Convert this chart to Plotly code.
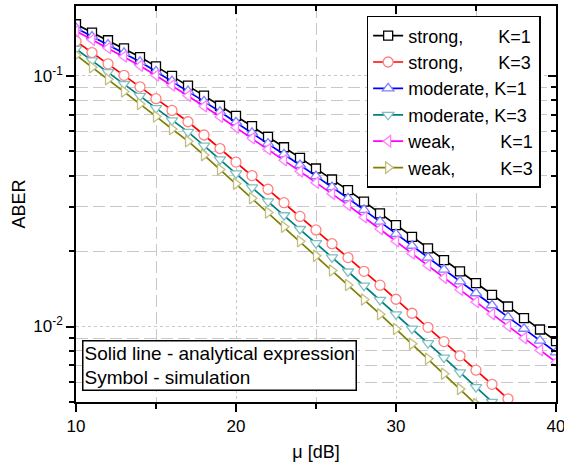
import math
import plotly.graph_objects as go

mu = list(range(10, 41))

strong_k1 = [0.1607, 0.1489, 0.1387, 0.1288, 0.1189, 0.1091, 0.1000, 0.0914, 0.0834, 0.0760,
             0.0692, 0.0630, 0.0571, 0.0519, 0.0471, 0.0427, 0.0386, 0.0350, 0.0315, 0.0283,
             0.0254, 0.0228, 0.0205, 0.0184, 0.0166, 0.01489, 0.01337, 0.01202, 0.01081, 0.00973,
             0.00875]
strong_k3 = [0.1374, 0.1239, 0.1117, 0.1005, 0.0904, 0.0811, 0.0728, 0.0656, 0.0581, 0.0513,
             0.0453, 0.0400, 0.0353, 0.0312, 0.0275, 0.0243, 0.0214, 0.01884, 0.01660, 0.01462,
             0.01285, 0.01130, 0.00993, 0.00871, 0.00764, 0.00670, 0.00588, 0.00515, 0.00452, 0.00396,
             0.00348]
moderate_k1 = [0.1552, 0.1436, 0.1334, 0.1236, 0.1138, 0.1042, 0.0953, 0.0869, 0.0791, 0.0719,
               0.0653, 0.0593, 0.0537, 0.0486, 0.0441, 0.0398, 0.0360, 0.0325, 0.0292, 0.0262,
               0.0234, 0.0210, 0.01884, 0.01687, 0.01514, 0.01358, 0.01216, 0.01091, 0.00980, 0.00879,
               0.00789]
moderate_k3 = [0.1282, 0.1152, 0.1035, 0.0928, 0.0832, 0.0744, 0.0665, 0.0598, 0.0527, 0.0464,
               0.0408, 0.0359, 0.0316, 0.0278, 0.0245, 0.0215, 0.01888, 0.01658, 0.01455, 0.01278,
               0.01119, 0.00981, 0.00859, 0.00751, 0.00656, 0.00573, 0.00501, 0.00438, 0.00383, 0.00335,
               0.00292]
weak_k1 = [0.1510, 0.1394, 0.1292, 0.1195, 0.1098, 0.1003, 0.0915, 0.0833, 0.0756, 0.0687,
           0.0622, 0.0564, 0.0510, 0.0461, 0.0416, 0.0375, 0.0339, 0.0305, 0.0273, 0.0245,
           0.0219, 0.01955, 0.01751, 0.01564, 0.01401, 0.01254, 0.01121, 0.01004, 0.00899, 0.00805,
           0.00721]
weak_k3 = [0.1211, 0.1083, 0.0970, 0.0866, 0.0773, 0.0689, 0.0614, 0.0549, 0.0483, 0.0423,
           0.0371, 0.0325, 0.0285, 0.0250, 0.0219, 0.01914, 0.01674, 0.01464, 0.01281, 0.01120,
           0.00977, 0.00853, 0.00744, 0.00648, 0.00564, 0.00491, 0.00427, 0.00372, 0.00324, 0.00282,
           0.00245]

NB = "\u00a0"
series = [
    ("strong," + NB * 7 + "K=1", strong_k1, "#000000", "#000000", "square"),
    ("strong," + NB * 7 + "K=3", strong_k3, "#ff0000", "#ff8080", "circle"),
    ("moderate," + NB + "K=1", moderate_k1, "#0000ff", "#8080ff", "triangle-up"),
    ("moderate," + NB + "K=3", moderate_k3, "#008080", "#80c0c0", "triangle-down"),
    ("weak," + NB * 9 + "K=1", weak_k1, "#ff00ff", "#ff80ff", "triangle-left"),
    ("weak," + NB * 9 + "K=3", weak_k3, "#808000", "#c0c080", "triangle-right"),
]

x_major = [10, 20, 30, 40]
x_minor = [15, 25, 35]
y_major = [0.01, 0.1]
y_major_text = ["10<sup>-2</sup>", "10<sup>-1</sup>"]
y_minor = [0.005, 0.006, 0.007, 0.008, 0.009, 0.02, 0.03, 0.04, 0.05, 0.06, 0.07, 0.08, 0.09]

FONT = "Liberation Sans, Arial, sans-serif"
GRID = "#c8c8c8"
yr = [math.log10(0.005), math.log10(0.19)]
xr = [10, 40]

fig = go.Figure()
for name, vals, lc, mc, sym in series:
    fig.add_trace(go.Scatter(
        x=mu, y=vals, name=name, mode="lines+markers",
        line=dict(color=lc, width=1.7),
        marker=dict(symbol=sym, size=9 if sym == "square" else 10, color="white",
                    line=dict(color=mc, width=1.3)),
    ))

# helper trace for the mirrored (inward-tick) axes
fig.add_trace(go.Scatter(x=[20], y=[0.05], xaxis="x2", yaxis="y2", mode="markers",
                         marker=dict(opacity=0), showlegend=False, hoverinfo="skip"))

fig.update_layout(
    width=564, height=467,
    margin=dict(l=76, r=8, t=6, b=65, autoexpand=False),
    paper_bgcolor="white", plot_bgcolor="white",
    font=dict(family=FONT, size=18, color="black"),
    showlegend=True,
    legend=dict(x=0.968, y=0.975, xanchor="right", yanchor="top",
                bgcolor="white", bordercolor="black", borderwidth=1.5,
                font=dict(family=FONT, size=18), tracegroupgap=0,
                itemwidth=30),
    xaxis=dict(range=xr, tickvals=x_major, ticks="outside", ticklen=8, tickwidth=1.5,
               tickcolor="black", showline=True, linecolor="black", linewidth=1.5,
               mirror=True, showgrid=True, gridcolor=GRID, gridwidth=1, griddash="dot",
               zeroline=False, tickfont=dict(size=17), automargin=False,
               ticklabeloverflow="allow",
               minor=dict(tickvals=x_minor, ticks="outside", ticklen=5, tickwidth=1.5,
                          tickcolor="black", showgrid=True, gridcolor=GRID, gridwidth=1,
                          griddash="12px,5px"),
               title=dict(text="μ [dB]", font=dict(size=18), standoff=10)),
    yaxis=dict(type="log", range=yr, tickvals=y_major, ticktext=y_major_text,
               ticks="outside", ticklen=8, tickwidth=1.5, tickcolor="black",
               showline=True, linecolor="black", linewidth=1.5, mirror=True,
               showgrid=True, gridcolor=GRID, gridwidth=1, griddash="dot",
               zeroline=False, tickfont=dict(size=17), automargin=False,
               minor=dict(tickvals=y_minor, ticks="outside", ticklen=5, tickwidth=1.5,
                          tickcolor="black", showgrid=True, gridcolor=GRID, gridwidth=1,
                          griddash="12px,5px"),
               title=dict(text="ABER", font=dict(size=18), standoff=3)),
    xaxis2=dict(overlaying="x", side="top", anchor="y2", range=xr, tickvals=x_major,
                ticks="inside", ticklen=8, tickwidth=1.5, tickcolor="black",
                showticklabels=False, showgrid=False, showline=False, zeroline=False,
                automargin=False,
                minor=dict(tickvals=x_minor, ticks="inside", ticklen=5, tickwidth=1.5,
                           tickcolor="black", showgrid=False)),
    yaxis2=dict(overlaying="y", side="right", anchor="x2", type="log", range=yr,
                tickvals=y_major, ticks="inside", ticklen=8, tickwidth=1.5,
                tickcolor="black", showticklabels=False, showgrid=False, showline=False,
                zeroline=False, automargin=False,
                minor=dict(tickvals=y_minor, ticks="inside", ticklen=5, tickwidth=1.5,
                           tickcolor="black", showgrid=False)),
    annotations=[dict(
        text="Solid line - analytical expression<br>Symbol - simulation",
        xref="paper", yref="paper", x=0.012, y=0.029, xanchor="left", yanchor="bottom",
        align="left", showarrow=False, font=dict(family=FONT, size=19, color="black"),
        bgcolor="white", bordercolor="black", borderwidth=1.5, borderpad=1,
    )],
)

fig.write_html("out.html", config={"displayModeBar": False},
               post_script="document.body.style.margin='0px';")
